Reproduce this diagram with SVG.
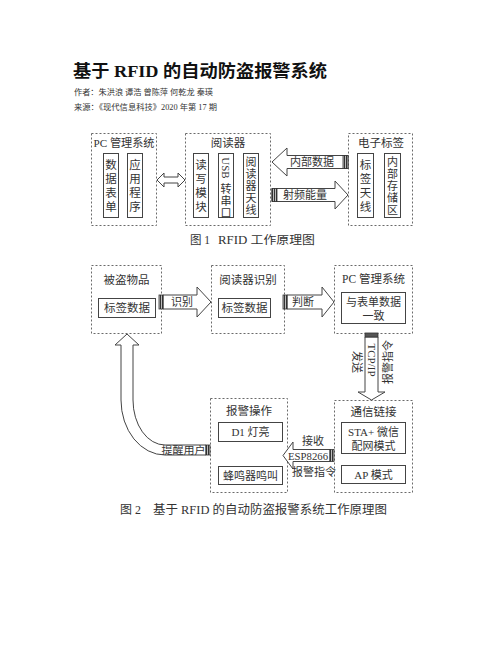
<svg xmlns="http://www.w3.org/2000/svg" width="502" height="649" viewBox="0 0 502 649">
<defs>
<pattern id="stripe" width="2" height="2" patternUnits="userSpaceOnUse">
<rect width="2" height="2" fill="#bbb"/>
<rect width="1" height="2" fill="#333"/>
</pattern>
<style>
.t{font-family:"Liberation Serif","Noto Sans CJK SC",serif;fill:#333;}
.c{text-anchor:middle;dominant-baseline:central;}
.dash{fill:none;stroke:#6a6a6a;stroke-width:1;stroke-dasharray:2 2;}
.box{fill:#fff;stroke:#444;stroke-width:1;}
.arr{fill:#fff;stroke:#444;stroke-width:1;stroke-linejoin:miter;}
.st{fill:url(#stripe);stroke:#333;stroke-width:0.8;}
</style>
</defs>
<rect width="502" height="649" fill="#fff"/>

<g id="header">
<text class="t" x="73" y="77" font-size="17" font-weight="bold" style="fill:#111" textLength="254" lengthAdjust="spacingAndGlyphs">基于 RFID 的自动防盗报警系统</text>
<text class="t" x="74" y="95" font-size="8" textLength="139" lengthAdjust="spacingAndGlyphs">作者：朱洪浪 谭浩 曾陈萍 何乾龙 秦瑛</text>
<text class="t" x="74" y="110" font-size="8" textLength="143" lengthAdjust="spacingAndGlyphs">来源：《现代信息科技》2020 年第 17 期</text>
</g>

<!-- Figure 1 -->
<g id="pc1">
<rect class="dash" x="91.5" y="133.5" width="65" height="92"/>
<text class="t c" x="124" y="143" font-size="11" textLength="61" lengthAdjust="spacingAndGlyphs">PC 管理系统</text>
<rect class="box" x="103.5" y="153.5" width="15" height="64"/>
<text class="t c" font-size="11.5"><tspan x="111" y="164.5">数</tspan><tspan x="111" y="178.5">据</tspan><tspan x="111" y="192.5">表</tspan><tspan x="111" y="206.5">单</tspan></text>
<rect class="box" x="127.5" y="153.5" width="15" height="64"/>
<text class="t c" font-size="11.5"><tspan x="135" y="164.5">应</tspan><tspan x="135" y="178.5">用</tspan><tspan x="135" y="192.5">程</tspan><tspan x="135" y="206.5">序</tspan></text>
</g>

<g id="reader1">
<rect class="dash" x="185.5" y="133.5" width="85" height="92"/>
<text class="t c" x="228" y="143" font-size="11.5">阅读器</text>
<rect class="box" x="193.5" y="153.5" width="15" height="64"/>
<text class="t c" font-size="11.5"><tspan x="201" y="164.5">读</tspan><tspan x="201" y="178.5">写</tspan><tspan x="201" y="192.5">模</tspan><tspan x="201" y="206.5">块</tspan></text>
<rect class="box" x="218.5" y="153.5" width="15" height="64"/>
<text class="t c" font-size="11" transform="translate(226,168) rotate(90)" x="0" y="0">USB</text>
<text class="t c" font-size="11"><tspan x="226" y="189">转</tspan><tspan x="226" y="201">串</tspan><tspan x="226" y="213">口</tspan></text>
<rect class="box" x="243.5" y="153.5" width="15" height="64"/>
<text class="t c" font-size="11"><tspan x="251" y="162">阅</tspan><tspan x="251" y="174">读</tspan><tspan x="251" y="186">器</tspan><tspan x="251" y="198">天</tspan><tspan x="251" y="210">线</tspan></text>
</g>

<g id="tag1">
<rect class="dash" x="348.5" y="133.5" width="64" height="92"/>
<text class="t c" x="381" y="143" font-size="11.5">电子标签</text>
<rect class="box" x="357.5" y="153.5" width="16" height="64"/>
<text class="t c" font-size="11.5"><tspan x="365.5" y="164.5">标</tspan><tspan x="365.5" y="178.5">签</tspan><tspan x="365.5" y="192.5">天</tspan><tspan x="365.5" y="206.5">线</tspan></text>
<rect class="box" x="384.5" y="153.5" width="16" height="64"/>
<text class="t c" font-size="11"><tspan x="392.5" y="162">内</tspan><tspan x="392.5" y="174">部</tspan><tspan x="392.5" y="186">存</tspan><tspan x="392.5" y="198">储</tspan><tspan x="392.5" y="210">区</tspan></text>
</g>

<g id="connectors1">
<polygon class="arr" points="157,180 164,173 164,177 178,177 178,173 185,180 178,187 178,183 164,183 164,187"/>
<polygon class="arr" points="272,162 287,148 287,155.5 348,155.5 348,168.5 287,168.5 287,176"/>
<rect class="st" x="343" y="155.5" width="5" height="13"/>
<text class="t c" x="312" y="162" font-size="11">内部数据</text>
<polygon class="arr" points="272,188.5 335,188.5 335,181 348,195 335,209 335,201.5 272,201.5"/>
<rect class="st" x="272" y="188.5" width="5" height="13"/>
<text class="t c" x="305" y="195" font-size="11">射频能量</text>
</g>

<g id="caption1">
<text class="t" x="190" y="244" font-size="11.5">图 1</text>
<text class="t" x="218" y="244" font-size="11.5" textLength="97" lengthAdjust="spacingAndGlyphs">RFID 工作原理图</text>
</g>

<!-- Figure 2 -->
<g id="stolen">
<rect class="dash" x="91.5" y="265.5" width="70" height="68"/>
<text class="t c" x="126.5" y="280" font-size="11.5">被盗物品</text>
<rect class="box" x="98.5" y="298.5" width="57" height="19"/>
<text class="t c" x="127" y="308" font-size="11.5">标签数据</text>
</g>

<g id="reader2">
<rect class="dash" x="211.5" y="265.5" width="73" height="68"/>
<text class="t c" x="248" y="280" font-size="11.5">阅读器识别</text>
<rect class="box" x="218.5" y="298.5" width="52" height="19"/>
<text class="t c" x="244.5" y="308" font-size="11.5">标签数据</text>
</g>

<g id="pc2">
<rect class="dash" x="334.5" y="265.5" width="78" height="68"/>
<text class="t c" x="373.5" y="279" font-size="11.5">PC 管理系统</text>
<rect class="box" x="341.5" y="292.5" width="64" height="31"/>
<text class="t c" x="373.5" y="301.5" font-size="11">与表单数据</text>
<text class="t c" x="373.5" y="315.5" font-size="11">一致</text>
</g>

<g id="comm">
<rect class="dash" x="334.5" y="400.5" width="78" height="92"/>
<text class="t c" x="373.5" y="412" font-size="11.5">通信链接</text>
<rect class="box" x="341.5" y="422.5" width="64" height="31"/>
<text class="t c" x="373.5" y="432" font-size="11">STA+ 微信</text>
<text class="t c" x="373.5" y="446" font-size="11">配网模式</text>
<rect class="box" x="341.5" y="465.5" width="64" height="18"/>
<text class="t c" x="373.5" y="474.5" font-size="11">AP 模式</text>
</g>

<g id="alarm">
<rect class="dash" x="210.5" y="398.5" width="77" height="94"/>
<text class="t c" x="249" y="411" font-size="11.5">报警操作</text>
<rect class="box" x="218.5" y="422.5" width="64" height="19"/>
<text class="t c" x="250.5" y="432" font-size="11">D1 灯亮</text>
<rect class="box" x="218.5" y="466.5" width="64" height="18"/>
<text class="t c" x="250.5" y="475.5" font-size="11">蜂鸣器鸣叫</text>
</g>

<g id="connectors2">
<polygon class="arr" points="163,295 197,295 197,287 211,302 197,317 197,309 163,309"/>
<rect class="st" x="159" y="295" width="4" height="14"/>
<text class="t c" x="182" y="302" font-size="11">识别</text>

<polygon class="arr" points="287,295 322,295 322,287 334,302 322,317 322,309 287,309"/>
<rect class="st" x="283" y="295" width="4" height="14"/>
<text class="t c" x="303" y="302" font-size="11">判断</text>

<polygon class="arr" points="365,337 378,337 378,392 385,392 371.5,400 358,392 365,392"/>
<rect class="st" x="365" y="333" width="13" height="4" style="fill:#555"/>
<text class="t c" font-size="11" transform="translate(357,362) rotate(90)">发送</text>
<text class="t c" font-size="11" transform="translate(371.5,360) rotate(90)">TCP/IP</text>
<text class="t c" font-size="11" transform="translate(388,362) rotate(-90)">报警指令</text>

<polygon class="arr" points="283,455.5 293,442 293,449.5 330,449.5 330,461.5 293,461.5 293,469"/>
<rect class="st" x="330" y="449.5" width="4" height="12"/>
<text class="t c" x="313" y="441" font-size="11">接收</text>
<text class="t c" x="308" y="456" font-size="10.5" textLength="40" lengthAdjust="spacingAndGlyphs">ESP8266</text>
<text class="t c" x="314" y="472" font-size="11">报警指令</text>

<path class="arr" d="M121,400 L121,345 L115,345 L127,334 L139,345 L133,345 L133,400 A32,45 0 0 0 165,445 L206,445 L206,455 L165,455 A44,55 0 0 1 121,400 Z"/>
<rect class="st" x="206" y="445" width="4" height="10"/>
<text class="t c" x="183.5" y="450.5" font-size="10.5" textLength="44" lengthAdjust="spacingAndGlyphs">提醒用户</text>
</g>

<g id="caption2">
<text class="t" x="120" y="514" font-size="12">图 2</text>
<text class="t" x="153" y="514" font-size="12" textLength="234" lengthAdjust="spacingAndGlyphs">基于 RFID 的自动防盗报警系统工作原理图</text>
</g>
</svg>
